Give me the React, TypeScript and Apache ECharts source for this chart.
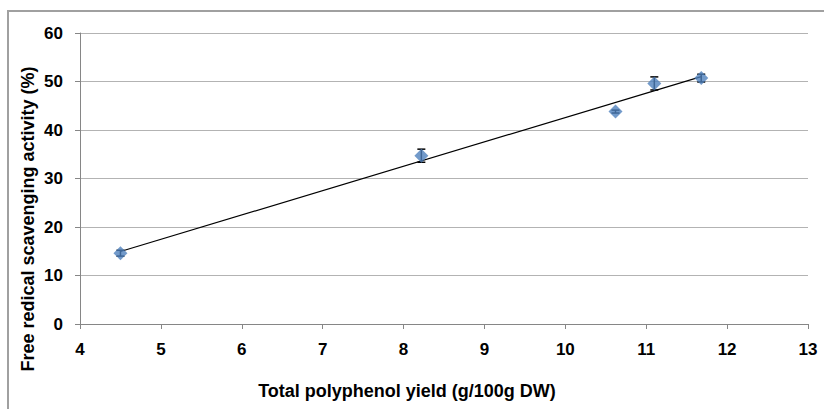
import React, { useEffect, useRef } from "react";
import * as echarts from "echarts";

const xValues = [4.5, 8.22, 10.62, 11.1, 11.68];
const yValues = [14.6, 34.7, 43.8, 49.6, 50.7];
const yErrors = [0.6, 1.35, 0.3, 1.35, 0.8];
const xTicks = [4, 5, 6, 7, 8, 9, 10, 11, 12, 13];
const yTicks = [0, 10, 20, 30, 40, 50, 60];
const xTitle = "Total polyphenol yield (g/100g DW)";
const yTitle = "Free redical scavenging activity (%)";

function regression(xs: number[], ys: number[]) {
  const n = xs.length;
  const mx = xs.reduce((a, b) => a + b, 0) / n;
  const my = ys.reduce((a, b) => a + b, 0) / n;
  let sxy = 0;
  let sxx = 0;
  for (let i = 0; i < n; i++) {
    sxy += (xs[i] - mx) * (ys[i] - my);
    sxx += (xs[i] - mx) * (xs[i] - mx);
  }
  const slope = sxy / sxx;
  return { slope, intercept: my - slope * mx };
}

export default function App() {
  const ref = useRef<HTMLDivElement>(null);
  useEffect(() => {
    if (!ref.current) return;
    const chart = echarts.init(ref.current, undefined, { renderer: "svg" });
    const { slope, intercept } = regression(xValues, yValues);
    const xMin = Math.min(...xValues);
    const xMax = Math.max(...xValues);
    const trend = [
      [xMin, slope * xMin + intercept],
      [xMax, slope * xMax + intercept],
    ];
    const font = "Arial, 'Liberation Sans', sans-serif";
    chart.setOption({
      animation: false,
      backgroundColor: "#ffffff",
      grid: { left: 80, right: 16, top: 33, bottom: 85 },
      xAxis: {
        type: "value",
        min: xTicks[0],
        max: xTicks[xTicks.length - 1],
        interval: 1,
        axisLine: { show: true, onZero: false, lineStyle: { color: "#868686", width: 1 } },
        axisTick: { show: true, length: 5, lineStyle: { color: "#868686" } },
        axisLabel: {
          color: "#000",
          fontFamily: font,
          fontWeight: "bold",
          fontSize: 17,
          margin: 17,
        },
        splitLine: { show: false },
      },
      yAxis: {
        type: "value",
        min: yTicks[0],
        max: yTicks[yTicks.length - 1],
        interval: 10,
        axisLine: { show: true, lineStyle: { color: "#868686", width: 1 } },
        axisTick: { show: true, length: 5, lineStyle: { color: "#868686" } },
        axisLabel: {
          color: "#000",
          fontFamily: font,
          fontWeight: "bold",
          fontSize: 17,
          margin: 17,
        },
        splitLine: { show: true, lineStyle: { color: "#b3b3b3", width: 1 } },
      },
      graphic: [
        {
          type: "rect",
          shape: { x: 8, y: 11, width: 840, height: 420 },
          style: { fill: "none", stroke: "#a0a0a0", lineWidth: 2 },
          silent: true,
          z: 100,
        },
        {
          type: "text",
          x: 407,
          y: 391,
          style: {
            text: xTitle,
            fontFamily: font,
            fontWeight: "bold",
            fontSize: 18,
            fill: "#000",
            align: "center",
            verticalAlign: "middle",
          },
        },
        {
          type: "text",
          x: 28,
          y: 219,
          rotation: Math.PI / 2,
          style: {
            text: yTitle,
            fontFamily: font,
            fontWeight: "bold",
            fontSize: 18,
            fill: "#000",
            align: "center",
            verticalAlign: "middle",
          },
        },
      ],
      series: [
        {
          type: "line",
          data: trend,
          symbol: "none",
          lineStyle: { color: "#000", width: 1.2 },
          z: 3,
        },
        {
          type: "custom",
          data: xValues.map((x, i) => [x, yValues[i] - yErrors[i], yValues[i] + yErrors[i]]),
          renderItem: (params: any, api: any) => {
            const x = api.value(0);
            const lo = api.coord([x, api.value(1)]);
            const hi = api.coord([x, api.value(2)]);
            const hw = 4;
            const st = { stroke: "#000", lineWidth: 1.5 };
            return {
              type: "group",
              children: [
                { type: "line", shape: { x1: lo[0], y1: lo[1], x2: hi[0], y2: hi[1] }, style: st },
                { type: "line", shape: { x1: lo[0] - hw, y1: lo[1], x2: lo[0] + hw, y2: lo[1] }, style: st },
                { type: "line", shape: { x1: hi[0] - hw, y1: hi[1], x2: hi[0] + hw, y2: hi[1] }, style: st },
              ],
            };
          },
          z: 4,
        },
        {
          type: "scatter",
          data: xValues.map((x, i) => [x, yValues[i]]),
          symbol: "diamond",
          symbolSize: 14,
          itemStyle: { color: "#4f81bd" },
          z: 5,
        },
      ],
    });
    return () => chart.dispose();
  }, []);
  return (
    <div
      ref={ref}
      style={{ position: "fixed", left: 0, top: 0, width: 824, height: 409 }}
    />
  );
}
